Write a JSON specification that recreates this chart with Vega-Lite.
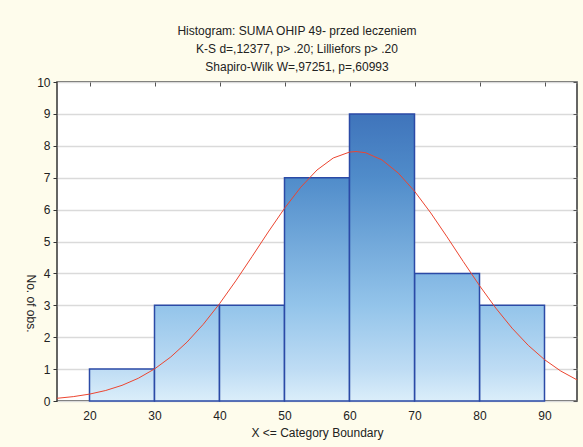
{
  "$schema": "https://vega.github.io/schema/vega-lite/v6.json",
  "width": 520,
  "height": 319,
  "autosize": {"type": "none"},
  "padding": {"left": 57, "top": 82, "right": 6, "bottom": 46},
  "background": "#fefcec",
  "config": {
    "view": {"fill": "#ffffff", "stroke": "#333333", "strokeWidth": 1.5},
    "font": "Liberation Sans",
    "axis": {
      "labelFont": "Liberation Sans",
      "labelFontSize": 12,
      "labelColor": "#222222",
      "titleFont": "Liberation Sans",
      "titleFontSize": 12,
      "titleFontWeight": "normal",
      "titleColor": "#222222",
      "domain": false
    }
  },
  "title": {
    "text": ["Histogram: SUMA OHIP 49- przed leczeniem", "K-S d=,12377, p> .20; Lilliefors p> .20", "Shapiro-Wilk W=,97251, p=,60993"],
    "font": "Liberation Sans",
    "fontSize": 12,
    "fontWeight": "normal",
    "color": "#222222",
    "lineHeight": 18,
    "offset": 2,
    "dx": -20,
    "anchor": "middle"
  },
  "datasets": {
    "bars": [
      {"bin": "20-30", "lo": 20, "hi": 30, "count": 1},
      {"bin": "30-40", "lo": 30, "hi": 40, "count": 3},
      {"bin": "40-50", "lo": 40, "hi": 50, "count": 3},
      {"bin": "50-60", "lo": 50, "hi": 60, "count": 7},
      {"bin": "60-70", "lo": 60, "hi": 70, "count": 9},
      {"bin": "70-80", "lo": 70, "hi": 80, "count": 4},
      {"bin": "80-90", "lo": 80, "hi": 90, "count": 3}
    ],
    "curve": [
      {"x": 15, "y": 0.085}, {"x": 17.5, "y": 0.137}, {"x": 20, "y": 0.216}, {"x": 22.5, "y": 0.33},
      {"x": 25, "y": 0.491}, {"x": 27.5, "y": 0.712}, {"x": 30, "y": 1.004}, {"x": 32.5, "y": 1.38},
      {"x": 35, "y": 1.846}, {"x": 37.5, "y": 2.404}, {"x": 40, "y": 3.049}, {"x": 42.5, "y": 3.765},
      {"x": 45, "y": 4.526}, {"x": 47.5, "y": 5.299}, {"x": 50, "y": 6.039}, {"x": 52.5, "y": 6.702},
      {"x": 55, "y": 7.241}, {"x": 57.5, "y": 7.618}, {"x": 60, "y": 7.803}, {"x": 61, "y": 7.82},
      {"x": 62.5, "y": 7.782}, {"x": 65, "y": 7.557}, {"x": 67.5, "y": 7.145}, {"x": 70, "y": 6.577},
      {"x": 72.5, "y": 5.895}, {"x": 75, "y": 5.146}, {"x": 77.5, "y": 4.372}, {"x": 80, "y": 3.617},
      {"x": 82.5, "y": 2.914}, {"x": 85, "y": 2.285}, {"x": 87.5, "y": 1.745}, {"x": 90, "y": 1.297},
      {"x": 92.5, "y": 0.939}, {"x": 95, "y": 0.662}
    ]
  },
  "layer": [
    {
      "data": {"name": "bars"},
      "transform": [{"filter": "datum.count == 1"}],
      "mark": {"type": "bar", "stroke": "#2b4aa6", "strokeWidth": 1.5,
        "fill": {"gradient": "linear", "x1": 0, "y1": 0, "x2": 0, "y2": 1, "stops": [{"offset": 0, "color": "#bedcf4"}, {"offset": 1, "color": "#dbeefa"}]}},
      "encoding": {
        "x": {
          "field": "lo", "type": "quantitative",
          "scale": {"domain": [15, 95], "nice": false, "zero": false},
          "axis": {"orient": "bottom", "values": [20, 30, 40, 50, 60, 70, 80, 90], "ticks": false, "labelPadding": 9, "grid": false, "title": "X <= Category Boundary", "titlePadding": 6}
        },
        "x2": {"field": "hi"},
        "y": {
          "field": "count", "type": "quantitative",
          "scale": {"domain": [0, 10], "nice": false},
          "axis": {"orient": "left", "values": [0, 1, 2, 3, 4, 5, 6, 7, 8, 9, 10], "tickSize": 4, "tickColor": "#333333", "labelPadding": 3, "grid": true, "gridColor": "#dadada", "gridWidth": 1.5, "title": "No. of obs.", "titleAngle": 90, "titleX": -27, "titleY": 221, "titleAlign": "center", "titleBaseline": "middle"}
        },
        "y2": {"datum": 0}
      }
    },
    {
      "data": {"name": "bars"},
      "transform": [{"filter": "datum.count == 3"}],
      "mark": {"type": "bar", "stroke": "#2b4aa6", "strokeWidth": 1.5,
        "fill": {"gradient": "linear", "x1": 0, "y1": 0, "x2": 0, "y2": 1, "stops": [{"offset": 0, "color": "#93c4ea"}, {"offset": 0.667, "color": "#bedcf4"}, {"offset": 1, "color": "#dbeefa"}]}},
      "encoding": {"x": {"field": "lo", "type": "quantitative", "axis": null}, "x2": {"field": "hi"}, "y": {"field": "count", "type": "quantitative", "axis": null}, "y2": {"datum": 0}}
    },
    {
      "data": {"name": "bars"},
      "transform": [{"filter": "datum.count == 4"}],
      "mark": {"type": "bar", "stroke": "#2b4aa6", "strokeWidth": 1.5,
        "fill": {"gradient": "linear", "x1": 0, "y1": 0, "x2": 0, "y2": 1, "stops": [{"offset": 0, "color": "#82b6e3"}, {"offset": 0.25, "color": "#93c4ea"}, {"offset": 0.75, "color": "#bedcf4"}, {"offset": 1, "color": "#dbeefa"}]}},
      "encoding": {"x": {"field": "lo", "type": "quantitative", "axis": null}, "x2": {"field": "hi"}, "y": {"field": "count", "type": "quantitative", "axis": null}, "y2": {"datum": 0}}
    },
    {
      "data": {"name": "bars"},
      "transform": [{"filter": "datum.count == 7"}],
      "mark": {"type": "bar", "stroke": "#2b4aa6", "strokeWidth": 1.5,
        "fill": {"gradient": "linear", "x1": 0, "y1": 0, "x2": 0, "y2": 1, "stops": [{"offset": 0, "color": "#508cca"}, {"offset": 0.571, "color": "#93c4ea"}, {"offset": 0.857, "color": "#bedcf4"}, {"offset": 1, "color": "#dbeefa"}]}},
      "encoding": {"x": {"field": "lo", "type": "quantitative", "axis": null}, "x2": {"field": "hi"}, "y": {"field": "count", "type": "quantitative", "axis": null}, "y2": {"datum": 0}}
    },
    {
      "data": {"name": "bars"},
      "transform": [{"filter": "datum.count == 9"}],
      "mark": {"type": "bar", "stroke": "#2b4aa6", "strokeWidth": 1.5,
        "fill": {"gradient": "linear", "x1": 0, "y1": 0, "x2": 0, "y2": 1, "stops": [{"offset": 0, "color": "#3f74bb"}, {"offset": 0.222, "color": "#508cca"}, {"offset": 0.667, "color": "#93c4ea"}, {"offset": 0.889, "color": "#bedcf4"}, {"offset": 1, "color": "#dbeefa"}]}},
      "encoding": {"x": {"field": "lo", "type": "quantitative", "axis": null}, "x2": {"field": "hi"}, "y": {"field": "count", "type": "quantitative", "axis": null}, "y2": {"datum": 0}}
    },
    {
      "data": {"name": "curve"},
      "mark": {"type": "line", "color": "#ec4530", "strokeWidth": 1, "clip": true},
      "encoding": {
        "x": {"field": "x", "type": "quantitative", "axis": {"orient": "top", "values": [20, 30, 40, 50, 60, 70, 80, 90], "labels": false, "ticks": true, "tickSize": -4, "tickColor": "#555555", "grid": false, "title": null}},
        "y": {"field": "y", "type": "quantitative", "axis": {"orient": "right", "values": [0, 1, 2, 3, 4, 5, 6, 7, 8, 9, 10], "labels": false, "ticks": true, "tickSize": -4, "tickColor": "#555555", "grid": false, "title": null}}
      }
    }
  ]
}
